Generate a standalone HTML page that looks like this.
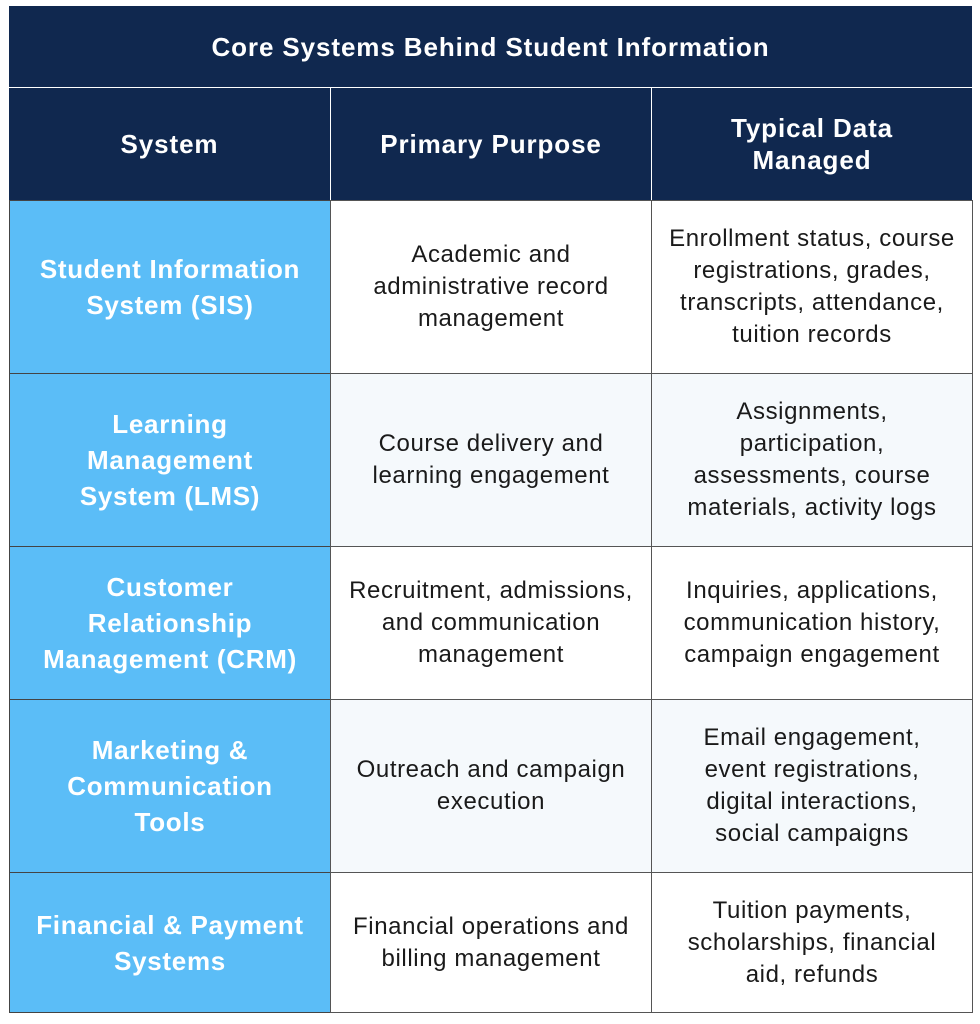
<!DOCTYPE html>
<html><head><meta charset="utf-8"><style>
body{margin:0;width:980px;height:1024px;background:#fff;font-family:"Liberation Sans",sans-serif;position:relative;overflow:hidden}
.c{position:absolute;display:flex;align-items:center;justify-content:center;text-align:center;box-sizing:border-box;white-space:nowrap}
.h{background:#10284f;color:#fff;font-weight:bold;font-size:26px;line-height:32px;letter-spacing:0.9px}
.s{background:#5bbdf7;color:#fff;font-weight:bold;font-size:26px;line-height:36px;letter-spacing:0.7px;border:1px solid #444}
.d{color:#1a1a1a;font-size:24px;line-height:32px;letter-spacing:0.6px;border:1px solid #555;background:#fff}
.alt{background:#f5f9fc}
</style></head><body>
<div class="c h" style="left:9px;top:6px;width:963px;height:81px;">Core Systems Behind Student Information</div>
<div class="c h" style="left:9px;top:88px;width:321px;height:112px;">System</div>
<div class="c h" style="left:331px;top:88px;width:320px;height:112px;">Primary Purpose</div>
<div class="c h" style="left:652px;top:88px;width:320px;height:112px;">Typical Data<br>Managed</div>

<div class="c s" style="left:9px;top:200px;width:322px;height:174px;">Student Information<br>System (SIS)</div>
<div class="c d" style="left:330px;top:200px;width:322px;height:174px;">Academic and<br>administrative record<br>management</div>
<div class="c d" style="left:651px;top:200px;width:322px;height:174px;">Enrollment status, course<br>registrations, grades,<br>transcripts, attendance,<br>tuition records</div>

<div class="c s" style="left:9px;top:373px;width:322px;height:174px;">Learning<br>Management<br>System (LMS)</div>
<div class="c d alt" style="left:330px;top:373px;width:322px;height:174px;">Course delivery and<br>learning engagement</div>
<div class="c d alt" style="left:651px;top:373px;width:322px;height:174px;">Assignments,<br>participation,<br>assessments, course<br>materials, activity logs</div>

<div class="c s" style="left:9px;top:546px;width:322px;height:154px;">Customer<br>Relationship<br>Management (CRM)</div>
<div class="c d" style="left:330px;top:546px;width:322px;height:154px;">Recruitment, admissions,<br>and communication<br>management</div>
<div class="c d" style="left:651px;top:546px;width:322px;height:154px;">Inquiries, applications,<br>communication history,<br>campaign engagement</div>

<div class="c s" style="left:9px;top:699px;width:322px;height:174px;">Marketing &amp;<br>Communication<br>Tools</div>
<div class="c d alt" style="left:330px;top:699px;width:322px;height:174px;">Outreach and campaign<br>execution</div>
<div class="c d alt" style="left:651px;top:699px;width:322px;height:174px;">Email engagement,<br>event registrations,<br>digital interactions,<br>social campaigns</div>

<div class="c s" style="left:9px;top:872px;width:322px;height:141px;">Financial &amp; Payment<br>Systems</div>
<div class="c d" style="left:330px;top:872px;width:322px;height:141px;">Financial operations and<br>billing management</div>
<div class="c d" style="left:651px;top:872px;width:322px;height:141px;">Tuition payments,<br>scholarships, financial<br>aid, refunds</div>
</body></html>
